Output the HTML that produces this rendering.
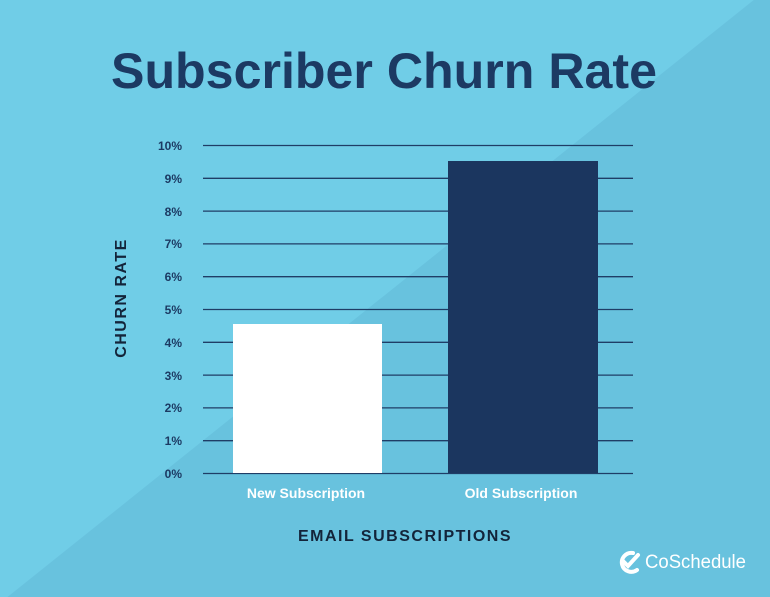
<!DOCTYPE html>
<html><head><style>body{margin:0}svg{display:block}</style></head><body>
<svg width="770" height="597" viewBox="0 0 770 597" xmlns="http://www.w3.org/2000/svg" font-family="Liberation Sans, sans-serif">
<rect width="770" height="597" fill="#70cde7"/>
<polygon points="0,603 770,-13 770,597 0,597" fill="#68c2de"/>
<text x="384" y="88" text-anchor="middle" font-size="50" font-weight="bold" fill="#1c3a63" textLength="546" lengthAdjust="spacingAndGlyphs">Subscriber Churn Rate</text>
<g stroke="#1f3d66" stroke-width="1.3">
<line x1="203" x2="633" y1="145.5" y2="145.5"/><line x1="203" x2="633" y1="178.3" y2="178.3"/>
<line x1="203" x2="633" y1="211.1" y2="211.1"/><line x1="203" x2="633" y1="243.9" y2="243.9"/>
<line x1="203" x2="633" y1="276.7" y2="276.7"/><line x1="203" x2="633" y1="309.5" y2="309.5"/>
<line x1="203" x2="633" y1="342.3" y2="342.3"/><line x1="203" x2="633" y1="375.1" y2="375.1"/>
<line x1="203" x2="633" y1="407.9" y2="407.9"/><line x1="203" x2="633" y1="440.7" y2="440.7"/>
<line x1="203" x2="633" y1="473.5" y2="473.5"/>
</g>
<g font-size="12" font-weight="bold" fill="#1c3a63" text-anchor="end">
<text x="182" y="150">10%</text><text x="182" y="183">9%</text><text x="182" y="216">8%</text>
<text x="182" y="248">7%</text><text x="182" y="281">6%</text><text x="182" y="314">5%</text>
<text x="182" y="347">4%</text><text x="182" y="380">3%</text><text x="182" y="412">2%</text>
<text x="182" y="445">1%</text><text x="182" y="478">0%</text>
</g>
<rect x="233" y="324" width="149" height="149" fill="#ffffff"/>
<rect x="448" y="161" width="150" height="312" fill="#1b365f"/>
<g font-size="14" font-weight="bold" fill="#ffffff" text-anchor="middle">
<text x="306" y="498">New Subscription</text><text x="521" y="498">Old Subscription</text>
</g>
<text x="405" y="541" text-anchor="middle" font-size="16" font-weight="bold" fill="#13243a" letter-spacing="1.5">EMAIL SUBSCRIPTIONS</text>
<text transform="translate(126,298) rotate(-90)" text-anchor="middle" font-size="16" font-weight="bold" fill="#13243a" letter-spacing="1.5">CHURN RATE</text>
<g fill="none" stroke="#fff" stroke-width="4" stroke-linecap="round"><path d="M633 553 A9.5 9.5 0 1 0 637 570"/><path d="M623 561 l5 5 l10 -11"/></g>
<text x="645" y="568" font-size="19" fill="#ffffff" textLength="101" lengthAdjust="spacingAndGlyphs">CoSchedule</text>
</svg>
</body></html>
